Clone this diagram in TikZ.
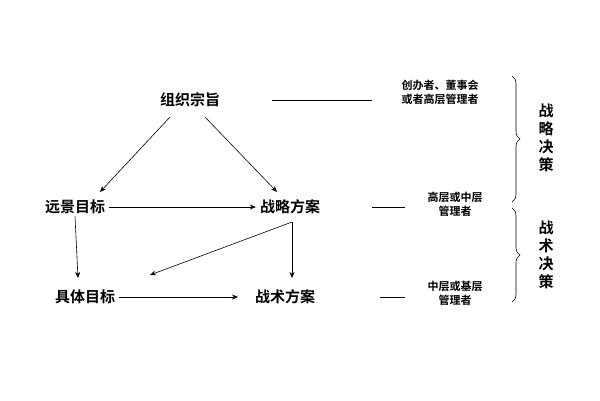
\documentclass[tikz,border=0pt]{standalone}
\usepackage{fontspec}
\newfontfamily\cjk{Noto Sans CJK SC}[BoldFont={Noto Sans CJK SC Bold}]
\usetikzlibrary{decorations.pathreplacing,arrows.meta}
\begin{document}
\begin{tikzpicture}[x=1pt,y=-1pt,
  big/.style={font=\cjk\bfseries\fontsize{15}{18}\selectfont,inner sep=2pt},
  small/.style={font=\cjk\bfseries\fontsize{11}{14}\selectfont,inner sep=1pt,align=center},
  arr/.style={-{Stealth[length=6pt,width=5pt]},line width=0.6pt},
  ln/.style={line width=0.6pt}]
\useasboundingbox[fill=white] (0,0) rectangle (600,400);
\node[big] (zz) at (190,100) {组织宗旨};
\node[big] (yj) at (75,207) {远景目标};
\node[big] (zl) at (290,207) {战略方案};
\node[big] (jt) at (85,297) {具体目标};
\node[big] (zs) at (285,297) {战术方案};
\node[small] (m1) at (440,92) {创办者、董事会\\或者高层管理者};
\node[small] (m2) at (455,204) {高层或中层\\管理者};
\node[small] (m3) at (455,293) {中层或基层\\管理者};
\coordinate (c1) at (272,100); \coordinate (c1e) at (372,100);
\draw[ln] (c1) -- (c1e);
\coordinate (c2) at (372,207); \coordinate (c2e) at (405,207);
\draw[ln] (c2) -- (c2e);
\coordinate (c3) at (380,297); \coordinate (c3e) at (405,297);
\draw[ln] (c3) -- (c3e);
\draw[arr] (170,117) -- (100,192);
\draw[arr] (205,117) -- (277,192);
\draw[arr] (yj.east) ++(2,0) -- ([xshift=-2pt]zl.west);
\draw[arr] (yj.south) -- (78,278);
\draw[arr] (jt.east) ++(2,0) -- (238,297);
\coordinate (sp) at (292,222);
\draw[arr] (sp) -- (292,278);
\draw[arr] (sp) -- (150,275);
\draw[ln,decorate,decoration={brace,amplitude=8pt}] (512,76) -- (512,202);
\draw[ln,decorate,decoration={brace,amplitude=8pt}] (512,208) -- (512,302);
\node[big,align=center,font=\cjk\bfseries\fontsize{15}{18}\selectfont] (t1) at (546,138) {战\\略\\决\\策};
\node[big,align=center,font=\cjk\bfseries\fontsize{15}{18}\selectfont] (t2) at (546,255) {战\\术\\决\\策};
\end{tikzpicture}
\end{document}
